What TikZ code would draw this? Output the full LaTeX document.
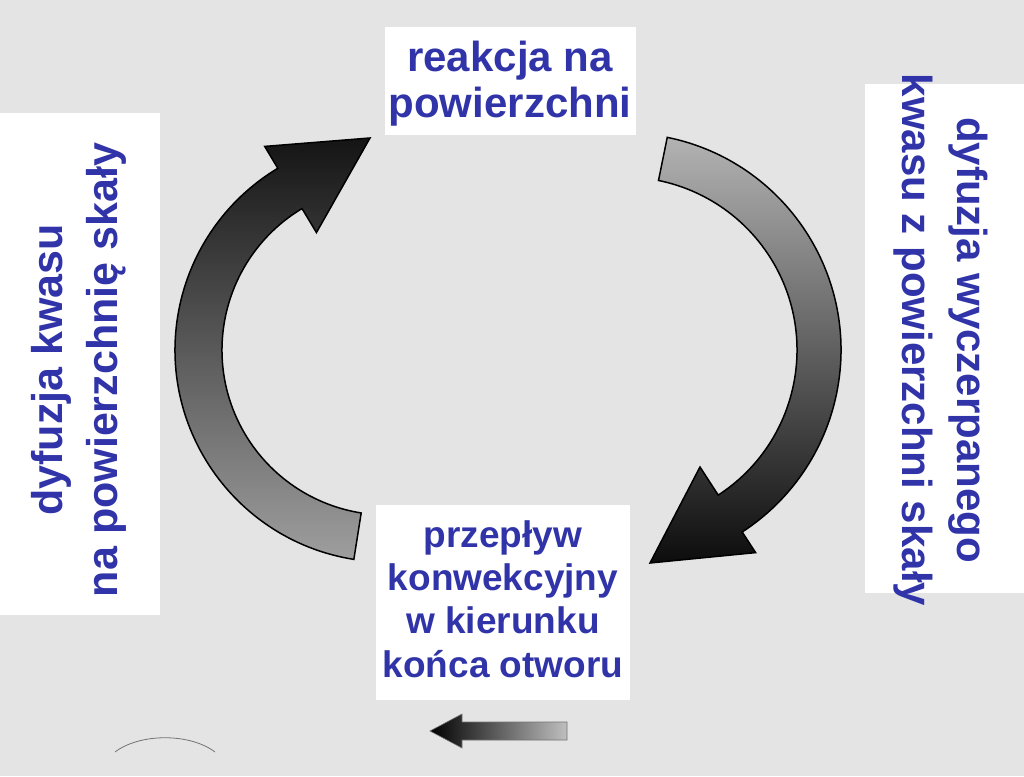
\documentclass[tikz,border=0pt]{standalone}
\usepackage{fontspec}
\setmainfont{Liberation Sans}
\definecolor{txtblue}{RGB}{48,52,168}
\definecolor{bgcol}{RGB}{228,228,228}
\begin{document}
\begin{tikzpicture}[x=1pt,y=1pt,
  lbl/.style={text=txtblue, inner sep=0pt, align=center},
  whitebox/.style={fill=white, draw=none},
  bigarrow/.style={draw=black, line width=1.5pt, line join=miter},
  smallarrow/.style={draw=black!55, line width=0.6pt}]
\useasboundingbox (0,0) rectangle (1024,776);
\fill[bgcol] (0,0) rectangle (1024,776);

% white boxes
\fill[whitebox] (0,161) rectangle (160,663);
\fill[whitebox] (385,641) rectangle (636,749);
\fill[whitebox] (865,183) rectangle (1024,692);
\fill[whitebox] (376,76) rectangle (630,271);

% labels
\node[lbl, font=\fontsize{42}{46}\selectfont\bfseries] (top) at (510,692) {reakcja na\\powierzchni};
\node[lbl, font=\fontsize{37}{43.3}\selectfont\bfseries] (bottom) at (503,177) {przepływ\\konwekcyjny\\w kierunku\\końca otworu};
\node[lbl, rotate=90, font=\fontsize{43}{55}\selectfont\bfseries] (left) at (79,406) {dyfuzja kwasu\\na powierzchnię skały};
\node[lbl, rotate=-90, font=\fontsize{42}{55}\selectfont\bfseries] (right) at (941,436) {dyfuzja wyczerpanego\\kwasu z powierzchni skały};

% big curved arrows
\coordinate (lc) at (387,426);
\coordinate (ltip) at (370,638);
\draw[bigarrow, top color=black!92, bottom color=black!38]
  ([shift={(387,426)}]261:212pt) arc[start angle=261, end angle=121, radius=212pt]
  -- ([shift={(387,426)}]121:237.5pt)
  -- (ltip)
  -- ([shift={(387,426)}]121:137pt)
  -- ([shift={(387,426)}]121:165pt)
  arc[start angle=121, end angle=261, radius=165pt]
  -- cycle;

\coordinate (rc) at (624,426);
\coordinate (rtip) at (650,213);
\draw[bigarrow, top color=black!30, bottom color=black!95]
  ([shift={(624,426)}]78.5:217pt) arc[start angle=78.5, end angle=-57, radius=217pt]
  -- ([shift={(624,426)}]-57:241.6pt)
  -- (rtip)
  -- ([shift={(624,426)}]-57:139.5pt)
  -- ([shift={(624,426)}]-57:173pt)
  arc[start angle=-57, end angle=78.5, radius=173pt]
  -- cycle;

% small arrow
\coordinate (stip) at (430,45);
\draw[smallarrow, left color=black, middle color=black!85, right color=black!25]
  (stip) -- (462,62) -- (462,54) -- (567,54) -- (567,36) -- (462,36) -- (462,28) -- cycle;

% faint arc
\coordinate (fa) at (115,24);
\coordinate (fb) at (215,24);
\draw[black!55, line width=0.8pt] (fa) .. controls (140,43) and (190,43) .. (fb);
\end{tikzpicture}
\end{document}
